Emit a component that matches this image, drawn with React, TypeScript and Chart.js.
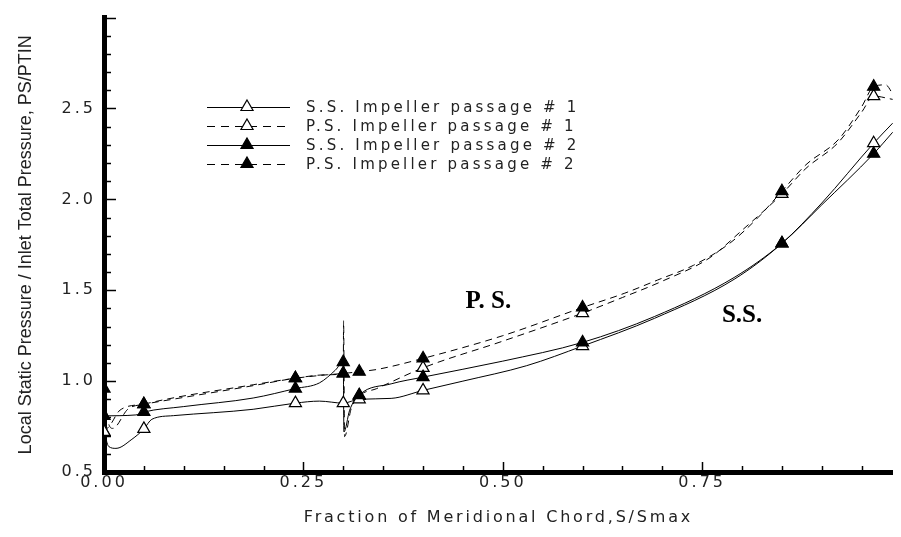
import React, { useEffect, useRef } from "react";
import { Chart, registerables } from "chart.js";

Chart.register(...registerables);

// ---------- data ----------
const markerX = [0, 0.05, 0.24, 0.3, 0.32, 0.4, 0.6, 0.85, 0.965];
const ss1Markers = [0.721, 0.737, 0.879, 0.879, 0.9, 0.949, 1.193, 1.758, 2.309];
const ps1Markers = [0.721, 0.873, 1.016, 1.042, 0.918, 1.073, 1.374, 2.03, 2.568];
const ss2Markers = [0.809, 0.83, 0.959, 1.105, 0.923, 1.022, 1.213, 1.758, 2.251];
const ps2Markers = [0.959, 0.873, 1.016, 1.042, 1.052, 1.125, 1.405, 2.045, 2.62];

const ss1CurveX = [0, 0.006, 0.015, 0.035, 0.05, 0.06, 0.087, 0.187, 0.24, 0.27, 0.3, 0.32, 0.36, 0.4, 0.45, 0.53, 0.6, 0.69, 0.79, 0.85, 0.9, 0.965, 0.989];
const ss1CurveY = [0.721, 0.64, 0.63, 0.68, 0.737, 0.79, 0.81, 0.845, 0.879, 0.89, 0.879, 0.9, 0.905, 0.949, 1.0, 1.085, 1.193, 1.345, 1.56, 1.758, 1.98, 2.309, 2.42];

const ss2CurveX = [0, 0.04, 0.05, 0.1, 0.187, 0.24, 0.27, 0.29, 0.3, 0.3008, 0.308, 0.32, 0.36, 0.4, 0.5, 0.6, 0.69, 0.79, 0.85, 0.9, 0.965, 0.989];
const ss2CurveY = [0.809, 0.814, 0.83, 0.86, 0.907, 0.959, 0.99, 1.06, 1.105, 0.72, 0.84, 0.923, 0.985, 1.022, 1.11, 1.213, 1.355, 1.57, 1.758, 1.97, 2.251, 2.37];

const ps2CurveX = [0, 0.005, 0.011, 0.03, 0.05, 0.187, 0.24, 0.28, 0.3, 0.32, 0.342, 0.4, 0.5, 0.6, 0.653, 0.694, 0.739, 0.785, 0.82, 0.85, 0.88, 0.921, 0.95, 0.965, 0.98, 0.989];
const ps2CurveY = [0.959, 0.78, 0.74, 0.846, 0.873, 0.98, 1.016, 1.035, 1.042, 1.052, 1.064, 1.125, 1.25, 1.405, 1.484, 1.556, 1.637, 1.76, 1.9, 2.045, 2.19, 2.33, 2.51, 2.62, 2.63, 2.58];

const ps1CurveX = [0, 0.008, 0.02, 0.05, 0.187, 0.24, 0.28, 0.3, 0.3004, 0.3016, 0.31, 0.32, 0.342, 0.4, 0.5, 0.6, 0.65, 0.7, 0.76, 0.8, 0.85, 0.88, 0.92, 0.95, 0.965, 0.989];
const ps1CurveY = [0.721, 0.76, 0.84, 0.873, 0.975, 1.016, 1.035, 1.042, 1.332, 0.695, 0.85, 0.918, 0.959, 1.073, 1.22, 1.374, 1.46, 1.55, 1.68, 1.83, 2.03, 2.17, 2.31, 2.48, 2.568, 2.55];

const legendLabels = [
  "S.S. Impeller passage # 1",
  "P.S. Impeller passage # 1",
  "S.S. Impeller passage # 2",
  "P.S. Impeller passage # 2",
];
const legendDashed = [false, true, false, true];
const legendFilled = [false, false, true, true];

const xTitle = "Fraction of Meridional Chord,S/Smax";
const yTitle = "Local Static Pressure / Inlet Total Pressure, PS/PTIN";
const annotations = [
  { text: "P. S.", x: 0.482, y: 1.44 },
  { text: "S.S.", x: 0.8, y: 1.36 },
];

// ---------- helpers ----------
const SANS = "'DejaVu Sans', 'Liberation Sans', sans-serif";
const toPts = (xs: number[], ys: number[]) => xs.map((x, i) => ({ x, y: ys[i] }));

function tri(ctx: CanvasRenderingContext2D, cx: number, cy: number, r: number, filled: boolean) {
  const s = Math.sin((2 * Math.PI) / 3) * r;
  ctx.beginPath();
  ctx.moveTo(cx, cy - r);
  ctx.lineTo(cx + s, cy + r / 2);
  ctx.lineTo(cx - s, cy + r / 2);
  ctx.closePath();
  ctx.fillStyle = filled ? "#000" : "#fff";
  ctx.fill();
  ctx.lineWidth = 1.2;
  ctx.strokeStyle = "#000";
  ctx.stroke();
}

const inwardTicks = {
  id: "inwardTicks",
  afterDatasetsDraw(chart: any) {
    const { ctx, chartArea, scales } = chart;
    const x = scales.x;
    const y = scales.y;
    ctx.save();
    ctx.strokeStyle = "#000";
    ctx.lineWidth = 1.5;
    ctx.setLineDash([]);
    for (let i = 0; i <= 20; i++) {
      const v = i * 0.05;
      if (v > x.max) break;
      const px = Math.round(x.getPixelForValue(v)) + 0.5;
      const len = i % 5 === 0 ? 10 : 6;
      ctx.beginPath();
      ctx.moveTo(px, chartArea.bottom);
      ctx.lineTo(px, chartArea.bottom - len);
      ctx.stroke();
    }
    for (let i = 0; i <= 25; i++) {
      const v = 0.5 + i * 0.1;
      const py = Math.round(y.getPixelForValue(v)) + 0.5;
      const len = i % 5 === 0 ? 12 : 7;
      ctx.beginPath();
      ctx.moveTo(chartArea.left, py);
      ctx.lineTo(chartArea.left + len, py);
      ctx.stroke();
    }
    ctx.restore();
  },
};

const textPlugin = {
  id: "texts",
  beforeDraw(chart: any) {
    chart.ctx.letterSpacing = "3px";
  },
  afterDraw(chart: any) {
    const { ctx, chartArea, scales } = chart;
    ctx.save();
    ctx.letterSpacing = "0px";
    // legend
    ctx.textBaseline = "middle";
    ctx.textAlign = "left";
    legendLabels.forEach((label, i) => {
      const ly = 107 + i * 19;
      ctx.strokeStyle = "#000";
      ctx.lineWidth = 1;
      ctx.setLineDash(legendDashed[i] ? [8, 6] : []);
      ctx.beginPath();
      ctx.moveTo(207, ly + 0.5);
      ctx.lineTo(290, ly + 0.5);
      ctx.stroke();
      ctx.setLineDash([]);
      tri(ctx, 247, ly, 7, legendFilled[i]);
      ctx.fillStyle = "#222";
      ctx.font = `15px ${SANS}`;
      ctx.letterSpacing = "3.2px";
      ctx.fillText(label, 306, ly + 1);
      ctx.letterSpacing = "0px";
    });
    // annotations
    ctx.font = "bold 25px 'Liberation Serif', 'Times New Roman', serif";
    ctx.fillStyle = "#000";
    ctx.textAlign = "center";
    annotations.forEach((a) => {
      ctx.fillText(a.text, scales.x.getPixelForValue(a.x), scales.y.getPixelForValue(a.y));
    });
    // axis titles
    ctx.fillStyle = "#222";
    ctx.font = `16px ${SANS}`;
    ctx.letterSpacing = "2.8px";
    ctx.fillText(xTitle, (chartArea.left + chartArea.right) / 2, 518);
    ctx.letterSpacing = "0px";
    ctx.translate(26, (chartArea.top + chartArea.bottom) / 2);
    ctx.rotate(-Math.PI / 2);
    ctx.font = "18px 'Liberation Sans', Arial, sans-serif";
    ctx.fillText(yTitle, 0, 0);
    ctx.restore();
    ctx.letterSpacing = "0px";
  },
};

export default function App() {
  const ref = useRef<HTMLCanvasElement>(null);
  useEffect(() => {
    const lineDs = (label: string, xs: number[], ys: number[], dashed: boolean) => ({
      label,
      data: toPts(xs, ys),
      borderColor: "#000",
      borderWidth: 1,
      borderDash: dashed ? [7, 5] : [],
      pointRadius: 0,
      fill: false,
      cubicInterpolationMode: "monotone" as const,
      order: 3,
    });
    const markDs = (label: string, ys: number[], filled: boolean) => ({
      label,
      data: toPts(markerX, ys),
      showLine: false,
      pointStyle: "triangle",
      pointRadius: 7,
      pointBackgroundColor: filled ? "#000" : "#fff",
      pointBorderColor: "#000",
      pointBorderWidth: 1.2,
      order: filled ? 0 : 1,
    });
    const chart = new Chart(ref.current as HTMLCanvasElement, {
      type: "line",
      data: {
        datasets: [
          lineDs(legendLabels[0], ss1CurveX, ss1CurveY, false),
          lineDs(legendLabels[1], ps1CurveX, ps1CurveY, true),
          lineDs(legendLabels[2], ss2CurveX, ss2CurveY, false),
          lineDs(legendLabels[3], ps2CurveX, ps2CurveY, true),
          markDs(legendLabels[0], ss1Markers, false),
          markDs(legendLabels[1], ps1Markers, false),
          markDs(legendLabels[2], ss2Markers, true),
          markDs(legendLabels[3], ps2Markers, true),
        ] as any,
      },
      options: {
        responsive: false,
        devicePixelRatio: 1,
        animation: false,
        layout: { padding: { top: 9, left: 0, right: 0, bottom: 0 } },
        plugins: { legend: { display: false }, tooltip: { enabled: false } },
        scales: {
          x: {
            type: "linear",
            min: 0,
            max: 0.989,
            afterFit: (s: any) => {
              s.height = 65;
            },
            grid: { display: false, drawTicks: false },
            border: { display: true, width: 5, color: "#000" },
            ticks: {
              stepSize: 0.25,
              autoSkip: false,
              maxRotation: 0,
              padding: 1,
              color: "#222",
              font: { family: SANS, size: 16 },
              callback: (v: any) => {
                const n = Number(v);
                return Math.abs(n / 0.25 - Math.round(n / 0.25)) < 1e-6 ? n.toFixed(2) : "";
              },
            },
          },
          y: {
            type: "linear",
            min: 0.5,
            max: 3.0,
            afterFit: (s: any) => {
              s.width = 104;
            },
            grid: { display: false, drawTicks: false },
            border: { display: true, width: 5, color: "#000" },
            ticks: {
              stepSize: 0.5,
              padding: 8,
              color: "#222",
              font: { family: SANS, size: 16 },
              callback: (v: any) => {
                const n = Number(v);
                return n > 2.99 ? "" : n.toFixed(1);
              },
            },
          },
        },
      } as any,
      plugins: [inwardTicks, textPlugin] as any,
    });
    return () => chart.destroy();
  }, []);
  return (
    <div style={{ position: "fixed", left: 0, top: 0, width: 901, height: 537, background: "#fff" }}>
      <canvas ref={ref} width={901} height={537} style={{ display: "block" }} />
    </div>
  );
}
